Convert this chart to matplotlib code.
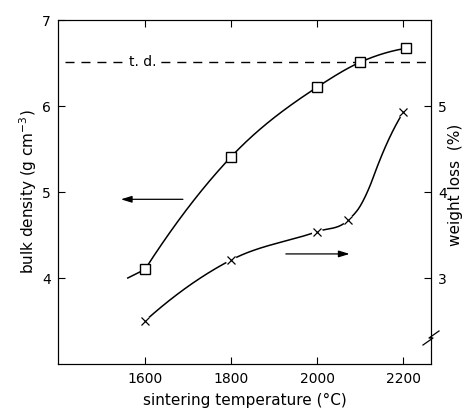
import numpy as np
import matplotlib
matplotlib.use("Agg")
import matplotlib.pyplot as plt
from matplotlib.patches import ArrowStyle

plt.rcParams['font.family'] = ['DejaVu Sans']
plt.rcParams['lines.scale_dashes'] = False

# ---- data ----
density_temp = [1600, 1800, 2000, 2100, 2205]
density_val = [4.10, 5.41, 6.22, 6.51, 6.67]
density_line_start = (1560, 4.00)          # where the drawn curve begins

loss_temp = [1600, 1800, 2000, 2071, 2200]
loss_val = [2.50, 3.21, 3.54, 3.67, 4.93]
# trace of the hand-drawn curve between the last two points
loss_trace_temp = [2100, 2123, 2138, 2155]
loss_trace_val = [3.84, 4.08, 4.28, 4.49]

td_value = 6.51
x_ticks = [1600, 1800, 2000, 2200]
left_ticks = [4, 5, 6, 7]
right_ticks = [3, 4, 5]


def smooth(x, y, xs):
    """Hermite spline with three-point (parabolic) slopes."""
    x = np.asarray(x, float); y = np.asarray(y, float)
    h = np.diff(x); d = np.diff(y) / h
    n = len(x); m = np.zeros(n)
    for k in range(1, n - 1):
        m[k] = (d[k - 1] * h[k] + d[k] * h[k - 1]) / (h[k - 1] + h[k])
    m[0] = ((2 * h[0] + h[1]) * d[0] - h[0] * d[1]) / (h[0] + h[1])
    m[-1] = ((2 * h[-1] + h[-2]) * d[-1] - h[-1] * d[-2]) / (h[-1] + h[-2])
    xs = np.asarray(xs, float)
    idx = np.clip(np.searchsorted(x, xs) - 1, 0, n - 2)
    t = (xs - x[idx]) / h[idx]
    h00 = 2 * t**3 - 3 * t**2 + 1; h10 = t**3 - 2 * t**2 + t
    h01 = -2 * t**3 + 3 * t**2; h11 = t**3 - t**2
    return h00 * y[idx] + h10 * h[idx] * m[idx] + h01 * y[idx + 1] + h11 * h[idx] * m[idx + 1]


fig = plt.figure(figsize=(4.68, 4.12), dpi=100)
ax = fig.add_axes([58 / 468, (412 - 364) / 412, 373 / 468, 344 / 412])
ax2 = ax.twinx()

lw = 1.1
# density curve: short tail, then smooth curve through the squares
ax.plot([density_line_start[0], density_temp[0]],
        [density_line_start[1], density_val[0]], color='k', lw=lw, zorder=2)
xs = np.linspace(density_temp[0], density_temp[-1], 300)
ax.plot(xs, smooth(density_temp, density_val, xs), color='k', lw=lw, zorder=2)
ax.plot(density_temp, density_val, ls='none', marker='s', ms=7.2,
        mfc='white', mec='k', mew=1.0, zorder=4)

# t.d. line
ax.plot([1414, 2253], [td_value, td_value], color='k', lw=1.0,
        dashes=(6.5, 5), zorder=1)
ax.text(1595, td_value, 't. d.', ha='center', va='center', fontsize=10,
        bbox=dict(facecolor='white', edgecolor='none', pad=1.0), zorder=3)

# weight loss curve
lx = loss_temp[:4] + loss_trace_temp + loss_temp[4:]
ly = loss_val[:4] + loss_trace_val + loss_val[4:]
xs2 = np.linspace(lx[0], lx[-1], 300)
ax2.plot(xs2, smooth(lx, ly, xs2), color='k', lw=lw, zorder=2)
ax2.plot(loss_temp, loss_val, ls='none', marker='o', ms=8, mfc='white',
         mec='none', zorder=3)
ax2.plot(loss_temp, loss_val, ls='none', marker='x', ms=5.5, mec='k',
         mew=0.9, zorder=4)

# arrows
style = ArrowStyle('-|>', head_length=0.65, head_width=0.2)
ax.annotate('', xy=(1544, 4.915), xytext=(1688, 4.915),
            arrowprops=dict(arrowstyle=style, color='k', lw=0.9,
                            mutation_scale=10, shrinkA=0, shrinkB=0))
ax.annotate('', xy=(2075, 4.28), xytext=(1927, 4.28),
            arrowprops=dict(arrowstyle=style, color='k', lw=0.9,
                            mutation_scale=10, shrinkA=0, shrinkB=0))

ax.set_xlim(1398, 2264)
ax.set_ylim(3.0, 7.0)
ax2.set_ylim(2.0, 6.0)

ax.set_xticks(x_ticks)
ax.set_yticks(left_ticks)
ax2.set_yticks(right_ticks)
ax.tick_params(axis='x', direction='in', top=True, length=5, width=0.8,
               labelsize=10, pad=6)
ax.tick_params(axis='y', direction='in', right=False, length=5, width=0.8,
               labelsize=10, pad=5)
ax2.tick_params(axis='y', direction='in', length=5, width=0.8,
                labelsize=10, pad=5)
for a in (ax, ax2):
    for s in a.spines.values():
        s.set_linewidth(0.8)

ax.set_xlabel('sintering temperature (°C)', fontsize=11)
ax.xaxis.set_label_coords(0.5, -0.085)
ax.set_ylabel('bulk density (g cm$^{-3}$)', fontsize=11)
ax.yaxis.set_label_coords(-0.052, 0.5)
ax2.set_ylabel('weight loss  (%)', fontsize=11, rotation=90)
ax2.yaxis.set_label_coords(1.045, 0.52)

# axis break symbol on right spine
bx, by = 1.0, (364 - 338) / 344
pts = np.array([(-8, -7), (2, 0), (-2, 0), (8, 7)], float)
ax2.plot(bx + pts[:, 0] / 373, by + pts[:, 1] / 344, color='k', lw=0.9,
         transform=ax2.transAxes, clip_on=False, zorder=5)

fig.savefig('out.png', dpi=100)
